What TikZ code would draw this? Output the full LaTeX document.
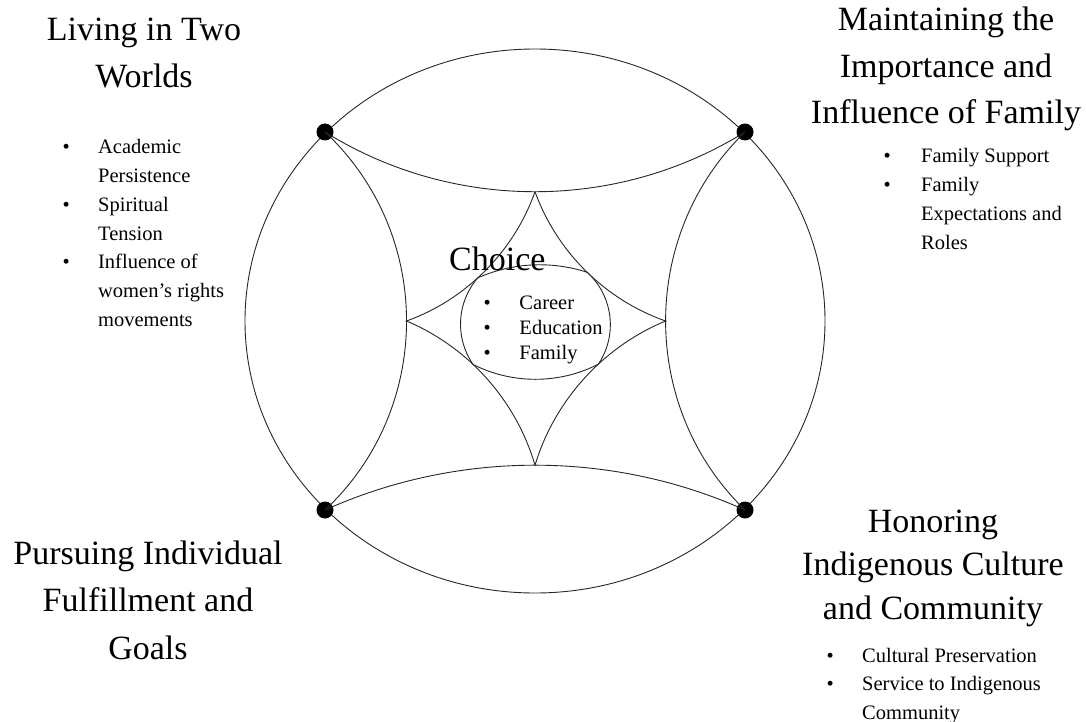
\documentclass[tikz,border=0pt]{standalone}
\usepackage{fontspec}
\setmainfont{Liberation Serif}
\begin{document}
\begin{tikzpicture}[x=1pt,y=-1pt,
  ln/.style={line width=0.9pt, draw=black!85},
  dotnode/.style={circle, fill=black, inner sep=0pt, minimum size=17pt},
  bigtext/.style={font=\fontsize{34}{#1}\selectfont, inner sep=0pt, anchor=base},
  listtext/.style={font=\fontsize{20.5}{#1}\selectfont, inner sep=0pt, anchor=base west},
  starside/.style={bend right=25.4, looseness=0.89}
]
\useasboundingbox (0,0) rectangle (1086,722);

% outer circle
\draw[ln] (535,321) ellipse [x radius=290, y radius=272];

% corner dots
\node[dotnode] (TL) at (325,132) {};
\node[dotnode] (TR) at (745,132) {};
\node[dotnode] (BL) at (325,510) {};
\node[dotnode] (BR) at (745,510) {};

% inner lens arcs
\draw[ln] (TL.center) to[bend right=31.9, looseness=0.92] coordinate[pos=0.5] (T) (TR.center);
\draw[ln] (BL.center) to[bend left=24.2, looseness=0.89] coordinate[pos=0.5] (B) (BR.center);
\draw[ln] (TL.center) to[bend left=46.9, looseness=1.01] coordinate[pos=0.5] (L) (BL.center);
\draw[ln] (TR.center) to[bend right=45.9, looseness=1.0] coordinate[pos=0.5] (R) (BR.center);

% star
\draw[ln] (T) to[starside] coordinate[pos=0.51] (TRc) (R)
              to[starside] coordinate[pos=0.40] (BRc) (B)
              to[starside] coordinate[pos=0.60] (BLc) (L)
              to[starside] coordinate[pos=0.445] (TLc) (T);

% centre shape
\draw[ln] (TLc) to[bend left=21, looseness=0.88] (TRc)
                to[bend left=41, looseness=0.97] (BRc)
                to[bend left=27, looseness=0.9] (BLc)
                to[bend left=38, looseness=0.95] (TLc);

% titles
\node[bigtext=47] (tl) at (144,41) {\begin{tabular}[t]{@{}c@{}}Living in Two\\Worlds\end{tabular}};
\node[bigtext=46.5] (tr) at (946,31) {\begin{tabular}[t]{@{}c@{}}Maintaining the\\Importance and\\Influence of Family\end{tabular}};
\node[bigtext=47.5] (bl) at (148,564) {\begin{tabular}[t]{@{}c@{}}Pursuing Individual\\Fulfillment and\\Goals\end{tabular}};
\node[bigtext=43.5] (br) at (933,532) {\begin{tabular}[t]{@{}c@{}}Honoring\\Indigenous Culture\\and Community\end{tabular}};
\node[font=\fontsize{34}{40}\selectfont, inner sep=0pt, anchor=base west] (ch) at (449,270) {Choice};

% lists
\node[listtext=28.7] (ltl) at (62.5,154) {\begin{tabular}[t]{@{}l@{\hspace{28.3pt}}l@{}}
\textbullet & Academic\\ & Persistence\\
\textbullet & Spiritual\\ & Tension\\
\textbullet & Influence of\\ & women’s rights\\ & movements\end{tabular}};
\node[listtext=28.7] (ltr) at (883.5,163) {\begin{tabular}[t]{@{}l@{\hspace{30.3pt}}l@{}}
\textbullet & Family Support\\
\textbullet & Family\\ & Expectations and\\ & Roles\end{tabular}};
\node[listtext=28.5] (lbr) at (826.5,662) {\begin{tabular}[t]{@{}l@{\hspace{28.3pt}}l@{}}
\textbullet & Cultural Preservation\\
\textbullet & Service to Indigenous\\ & Community\end{tabular}};
\node[listtext=25] (lc) at (483.5,309) {\begin{tabular}[t]{@{}l@{\hspace{28.6pt}}l@{}}
\textbullet & Career\\
\textbullet & Education\\
\textbullet & Family\end{tabular}};
\end{tikzpicture}
\end{document}
